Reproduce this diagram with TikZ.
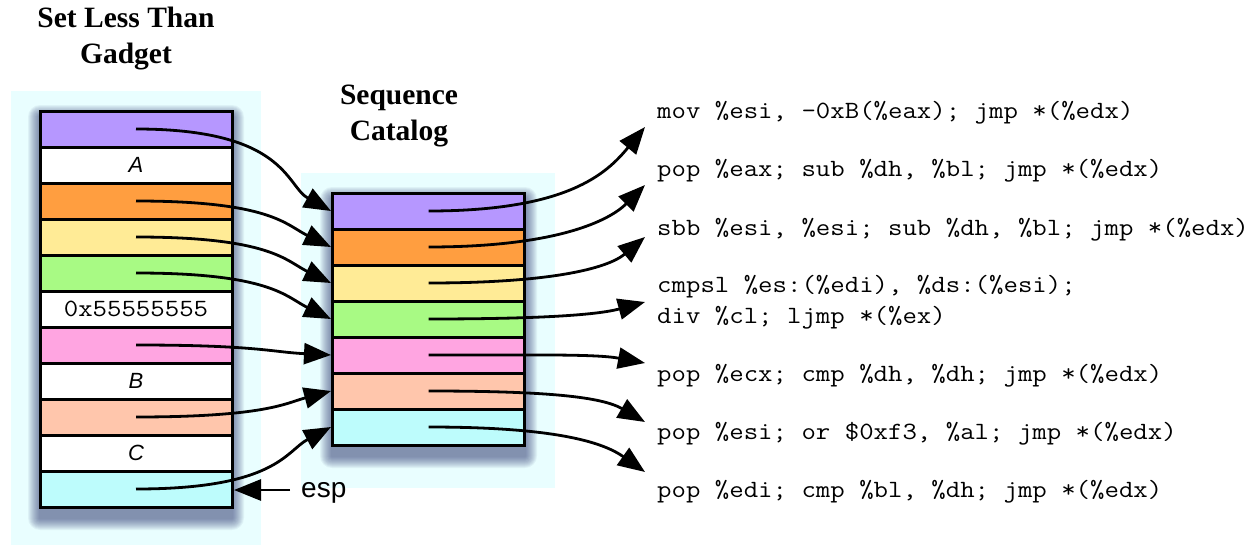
\documentclass[tikz,border=0pt]{standalone}
\usepackage{fontspec}
\usepackage{graphicx}
\usetikzlibrary{arrows.meta}
\newfontfamily\serifb{Liberation Serif}
\newfontfamily\helv{Liberation Sans}
\definecolor{bgc}{RGB}{233,254,255}
\definecolor{shc}{RGB}{40,50,110}
\definecolor{cpur}{RGB}{182,151,255}
\definecolor{cora}{RGB}{255,158,64}
\definecolor{cyel}{RGB}{255,235,150}
\definecolor{cgre}{RGB}{168,250,132}
\definecolor{cpin}{RGB}{255,165,225}
\definecolor{csal}{RGB}{255,198,172}
\definecolor{ccya}{RGB}{189,252,252}
\newcommand{\codetxt}[1]{\scalebox{1.13}[1]{\fontsize{24.8}{30}\selectfont\ttfamily #1}}
\begin{document}
\begin{tikzpicture}[x=1pt,y=-1pt,
  cell/.style={draw=black, line width=3pt, minimum width=192pt, minimum height=36pt, inner sep=0pt},
  title/.style={align=center, font=\serifb\bfseries\fontsize{29.5}{36}\selectfont},
  letter/.style={font=\helv\itshape\fontsize{22}{24}\selectfont},
  code/.style={anchor=base west, inner sep=0pt},
  conn/.style={line width=2.8pt, -{Triangle[length=27pt,width=21pt]}},
  bgbox/.style={fill=bgc}
]
\useasboundingbox (0,0) rectangle (1254,546);
% backgrounds
\fill[bgbox] (11,91) rectangle (261,545);
\fill[bgbox] (301,173) rectangle (555,488);
% shadows
\foreach \r in {1,...,12}{
  \fill[shc, opacity=0.06, rounded corners=\r pt] (40-\r,117-\r) rectangle (232+\r,518+\r);
  \fill[shc, opacity=0.06, rounded corners=\r pt] (332-\r,199-\r) rectangle (525+\r,456+\r);
}
% titles
\node[title] (t_left) at (126,39) {Set Less Than\\Gadget};
\node[title] (t_mid) at (399,116) {Sequence\\Catalog};
% left stack
\node[cell, fill=cpur] (L0) at (136,129) {};
\node[cell, fill=white, letter] (L1) at (136,165) {A};
\node[cell, fill=cora] (L2) at (136,201) {};
\node[cell, fill=cyel] (L3) at (136,237) {};
\node[cell, fill=cgre] (L4) at (136,273) {};
\node[cell, fill=white] (L5) at (136,309) {\codetxt{0x55555555}};
\node[cell, fill=cpin] (L6) at (136,345) {};
\node[cell, fill=white, letter] (L7) at (136,381) {B};
\node[cell, fill=csal] (L8) at (136,417) {};
\node[cell, fill=white, letter] (L9) at (136,453) {C};
\node[cell, fill=ccya] (L10) at (136,489) {};
% middle stack
\node[cell, fill=cpur] (M0) at (428.5,211) {};
\node[cell, fill=cora] (M1) at (428.5,247) {};
\node[cell, fill=cyel] (M2) at (428.5,283) {};
\node[cell, fill=cgre] (M3) at (428.5,319) {};
\node[cell, fill=cpin] (M4) at (428.5,355) {};
\node[cell, fill=csal] (M5) at (428.5,391) {};
\node[cell, fill=ccya] (M6) at (428.5,427) {};
% esp
\node[font=\helv\fontsize{28}{30}\selectfont, anchor=west, inner xsep=11pt, inner ysep=0pt, text height=14.5pt, text depth=0pt] (esp) at (290,490) {esp};
\coordinate (e0) at (234,490);
\draw[conn] (esp.west) -- (e0);
% left -> middle
\draw[conn] (L0.center) .. controls +(150,0) and +(-45,-25) .. (M0.west);
\draw[conn] (L2.center) .. controls +(135,0) and +(-45,-22) .. (M1.west);
\draw[conn] (L3.center) .. controls +(135,0) and +(-45,-22) .. (M2.west);
\draw[conn] (L4.center) .. controls +(135,0) and +(-45,-22) .. (M3.west);
\draw[conn] (L6.center) .. controls +(120,0) and +(-60,-3) .. (M4.west);
\draw[conn] (L8.center) .. controls +(130,0) and +(-45,12) .. (M5.west);
\draw[conn] (L10.center) .. controls +(140,0) and +(-45,24) .. (M6.west);
% code texts
\node[code] (c1) at (657,118) {\codetxt{mov \%esi, -0xB(\%eax); jmp *(\%edx)}};
\node[code] (c2) at (657,176) {\codetxt{pop \%eax; sub \%dh, \%bl; jmp *(\%edx)}};
\node[code] (c3) at (657,235) {\codetxt{sbb \%esi, \%esi; sub \%dh, \%bl; jmp *(\%edx)}};
\node[code] (c4a) at (657,292) {\codetxt{cmpsl \%es:(\%edi), \%ds:(\%esi);}};
\node[code] (c4b) at (657,323) {\codetxt{div \%cl; ljmp *(\%ex)}};
\node[code] (c5) at (657,381) {\codetxt{pop \%ecx; cmp \%dh, \%dh; jmp *(\%edx)}};
\node[code] (c6) at (657,439) {\codetxt{pop \%esi; or \$0xf3, \%al; jmp *(\%edx)}};
\node[code] (c7) at (657,497) {\codetxt{pop \%edi; cmp \%bl, \%dh; jmp *(\%edx)}};
% tips
\coordinate (t1) at (645,127);
\coordinate (t2) at (645,185);
\coordinate (t3) at (645,237);
\coordinate (t4) at (645,302);
\coordinate (t5) at (645,363);
\coordinate (t6) at (645,422);
\coordinate (t7) at (645,472);
% middle -> code
\draw[conn] (M0.center) .. controls +(140,0) and +(-38,46) .. (t1);
\draw[conn] (M1.center) .. controls +(130,0) and +(-35,35) .. (t2);
\draw[conn] (M2.center) .. controls +(120,0) and +(-38,32) .. (t3);
\draw[conn] (M3.center) .. controls +(110,0) and +(-48,13) .. (t4);
\draw[conn] (M4.center) .. controls +(110,0) and +(-49,-9) .. (t5);
\draw[conn] (M5.center) .. controls +(120,0) and +(-43,-25) .. (t6);
\draw[conn] (M6.center) .. controls +(130,0) and +(-41,-29) .. (t7);
\end{tikzpicture}
\end{document}
